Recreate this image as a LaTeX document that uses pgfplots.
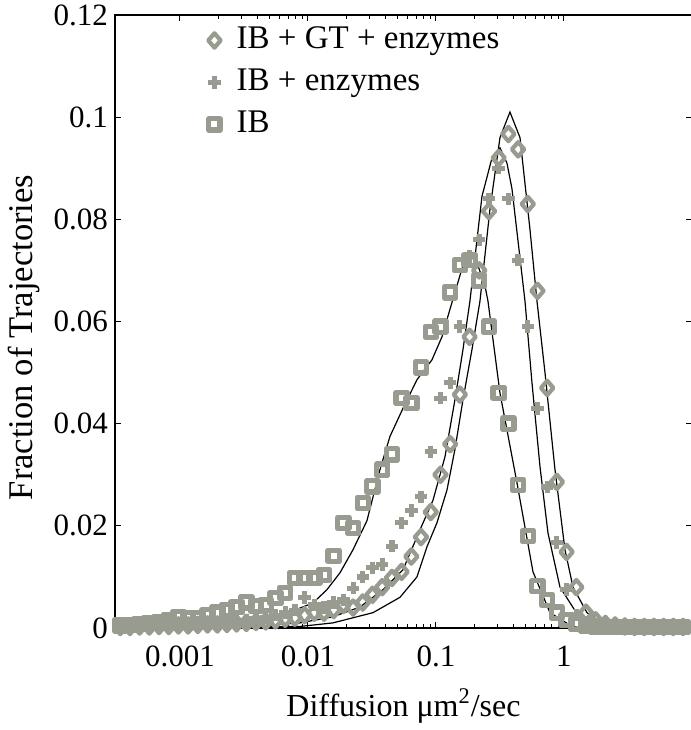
\documentclass[border=0pt]{standalone}
\usepackage{fontspec}
\setmainfont{Liberation Serif}
\usepackage{pgfplots}
\usepackage{pgfplotstable}
\pgfplotsset{compat=1.18}

\definecolor{markgray}{RGB}{152,156,144}

% log-spaced bins: x, IB (squares), IB + enzymes (plus), IB + GT + enzymes (diamonds)
\pgfplotstableread{
x        sq      pl      di
0.000342 0.0005  0.0003  0.0002
0.000407 0.0006  0.0003  0.0002
0.000484 0.0008  0.0004  0.0003
0.000577 0.0010  0.0005  0.0003
0.000687 0.0012  0.0005  0.0004
0.000818 0.0016  0.0006  0.0004
0.000974 0.0022  0.0008  0.0005
0.001159 0.0020  0.0008  0.0005
0.00138  0.0020  0.0009  0.0006
0.001643 0.0025  0.0011  0.0007
0.00196  0.0030  0.0010  0.0007
0.00233  0.0035  0.0012  0.0008
0.00277  0.0041  0.0014  0.0009
0.00330  0.0050  0.0015  0.0010
0.00393  0.0043  0.0018  0.0012
0.00468  0.0045  0.0020  0.0013
0.00558  0.0059  0.0025  0.0015
0.00664  0.0069  0.0030  0.0018
0.00791  0.0098  0.0035  0.0020
0.00941  0.0098  0.0060  0.0025
0.01121  0.0098  0.0045  0.0030
0.01335  0.0104  0.0040  0.0030
0.01589  0.0141  0.0050  0.0035
0.01892  0.0206  0.0055  0.0045
0.02253  0.0196  0.0078  0.0040
0.0268   0.0245  0.0100  0.0050
0.0319   0.0277  0.0118  0.0065
0.0380   0.0310  0.0124  0.0080
0.0453   0.0340  0.0160  0.0098
0.0539   0.0450  0.0206  0.0110
0.0642   0.0440  0.0230  0.0140
0.0764   0.0510  0.0257  0.0178
0.0910   0.0580  0.0345  0.0227
0.1084   0.0590  0.0450  0.0300
0.1291   0.0657  0.0480  0.0360
0.1537   0.0710  0.0590  0.0457
0.1830   0.0720  0.0727  0.0570
0.2179   0.0680  0.0760  0.0700
0.2594   0.0590  0.0840  0.0816
0.3089   0.0460  0.0900  0.0920
0.3678   0.0400  0.0840  0.0967
0.4380   0.0280  0.0720  0.0937
0.5215   0.0180  0.0590  0.0830
0.6210   0.0082  0.0430  0.0660
0.7390   0.0055  0.0276  0.0470
0.8800   0.0030  0.0167  0.0286
1.048    0.0016  0.0075  0.0149
1.248    0.0008  0.0025  0.0080
1.486    0.0005  0.0012  0.0030
1.769    0.0003  0.0006  0.0015
2.107    0.0002  0.0004  0.0008
2.508    0.0002  0.0003  0.0005
2.987    0.0002  0.0002  0.0003
3.556    0.0002  0.0002  0.0002
4.235    0.0002  0.0002  0.0002
5.042    0.0002  0.0002  0.0002
6.004    0.0002  0.0002  0.0002
7.149    0.0002  0.0002  0.0002
8.510    0.0002  0.0002  0.0002
10.13    0.0002  0.0002  0.0002
}\bins

\begin{document}
\begin{tikzpicture}
\begin{axis}[
    xmode=log,
    scale only axis,
    width=288.5pt, height=306.5pt,
    xmin=0.000311, xmax=10,
    ymin=0, ymax=0.12,
    xtick={0.001,0.01,0.1,1},
    xticklabels={0.001,0.01,0.1,1},
    ytick={0,0.02,0.04,0.06,0.08,0.1,0.12},
    yticklabels={0,0.02,0.04,0.06,0.08,0.1,0.12},
    /pgf/number format/assume math mode=true,
    tick label style={font=\fontsize{15.5}{18}\selectfont},
    xticklabel style={yshift=-5.5pt},
    xlabel={Diffusion μm\textsuperscript{2}/sec},
    xlabel style={font=\fontsize{16}{19}\selectfont, yshift=-4pt},
    ylabel={Fraction of Trajectories},
    ylabel style={font=\fontsize{17.3}{20}\selectfont,
        at={(ticklabel cs:0.474)}},
    major tick length=3pt, minor tick length=2pt,
    tick style={black, line width=0.5pt},
    axis line style={line width=0.7pt},
    axis on top,
    legend cell align=left,
    legend style={draw=none, fill=none, at={(0.154,0.995)}, anchor=north west,
        inner sep=2pt, row sep=3pt, font=\fontsize{16.5}{19}\selectfont,
        nodes={inner sep=1pt, text height=12pt, text depth=4pt},
        /tikz/every odd column/.append style={column sep=7pt}},
]
\addplot[only marks, mark=diamond, mark size=3.6pt, draw=markgray,
    mark options={solid, xscale=1.15, line width=2.1pt, line join=round}]
    table[x=x, y=di] {\bins};
\addlegendentry{IB + GT + enzymes}
\addplot[only marks, mark=+, mark size=3.1pt, draw=markgray,
    mark options={solid, line width=2.6pt}] table[x=x, y=pl] {\bins};
\addlegendentry{IB + enzymes}
\addplot[only marks, mark=square, mark size=2.8pt, draw=markgray,
    mark options={solid, line width=2.6pt, line join=round}] table[x=x, y=sq] {\bins};
\addlegendentry{IB}

% fitted curves
\addplot[black, line width=0.6pt, forget plot] coordinates {
    (0.000311,0.0000) (0.000583,0.0001) (0.001433,0.0004) (0.002942,0.0010)
    (0.004782,0.0016) (0.006613,0.0025) (0.008660,0.0039) (0.010940,0.0049)
    (0.014070,0.0075) (0.017783,0.0108) (0.022465,0.0153) (0.028900,0.0210)
    (0.036517,0.0310) (0.043707,0.0375) (0.055244,0.0430) (0.071041,0.0486)
    (0.093058,0.0525) (0.111393,0.0570) (0.128639,0.0624) (0.162535,0.0710)
    (0.191066,0.0725) (0.209044,0.0715) (0.241416,0.0670) (0.254780,0.0640)
    (0.316228,0.0460) (0.429445,0.0284) (0.572524,0.0110) (0.777332,0.0030)
    (1.176,0.0002) (1.911,0.0) (3.279,0.0)
};
\addplot[black, line width=0.6pt, forget plot] coordinates {
    (0.000311,0) (0.003522,0.0003) (0.008660,0.0010) (0.015677,0.0022)
    (0.025480,0.0041) (0.038540,0.0075) (0.055244,0.0114) (0.074989,0.0192)
    (0.094750,0.0250) (0.117573,0.0335) (0.140715,0.0447) (0.162535,0.0545)
    (0.184190,0.0640) (0.228748,0.0845) (0.273842,0.0920) (0.316228,0.0940)
    (0.358539,0.0910) (0.392330,0.0860) (0.495782,0.0640) (0.562341,0.0480)
    (0.649382,0.0316) (0.749894,0.0186) (0.930572,0.0080) (1.286,0.0025)
    (1.512,0.0005) (1.911,0) (3.279,0)
};
\addplot[black, line width=0.6pt, forget plot] coordinates {
    (0.000311,0) (0.008660,0.0003) (0.015677,0.0010) (0.032201,0.0030)
    (0.052330,0.0060) (0.071041,0.0100) (0.085046,0.0159) (0.101815,0.0206)
    (0.121867,0.0270) (0.140715,0.0350) (0.162535,0.0447) (0.191066,0.0545)
    (0.220639,0.0640) (0.264144,0.0820) (0.316228,0.0960) (0.378418,0.1010)
    (0.453194,0.0960) (0.542451,0.0780) (0.615194,0.0640) (0.710496,0.0500)
    (0.850413,0.0310) (1.018,0.0153) (1.176,0.0080) (1.512,0.0030)
    (2.168,0.0003) (3.279,0)
};
\end{axis}
\pgfresetboundingbox
\path[use as bounding box] ([shift={(-57.5pt,-51pt)}]current axis.south west)
    rectangle ([shift={(-1pt,7.5pt)}]current axis.north east);
\end{tikzpicture}
\end{document}
